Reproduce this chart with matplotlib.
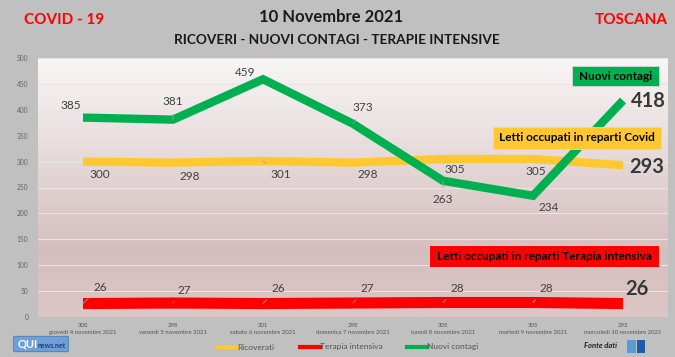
import matplotlib.pyplot as plt
import numpy as np
from matplotlib.patches import Rectangle, FancyBboxPatch
from matplotlib.colors import LinearSegmentedColormap
from matplotlib.lines import Line2D

plt.rcParams['font.family'] = ['Lato', 'DejaVu Sans']

# data
giorni = ["giovedì 4 novembre 2021", "venerdì 5 novembre 2021",
          "sabato 6 novembre 2021", "domenica 7 novembre 2021",
          "lunedì 8 novembre 2021", "martedì 9 novembre 2021",
          "mercoledì 10 novembre 2021"]
ricoverati = [300, 298, 301, 298, 305, 305, 293]
terapia = [26, 27, 26, 27, 28, 28, 26]
contagi = [385, 381, 459, 373, 263, 234, 418]

# label offsets in pixels (dx, dy, leader line); last one is the big label
off_contagi = [(-12, 12, 0), (0, 18, 1), (-18, 7, 0), (10, 16, 1), (0, -19, 1), (16, -12, 0), (25, -1, 0)]
off_ricov = [(17, -13, 0), (17, -14, 0), (18, -13, 1), (15, -12, 0), (12, -10, 0), (3, -12, 0), (24, -2, 0)]
off_terapia = [(17, 16, 1), (11, 13, 1), (15, 15, 1), (14, 15, 1), (14, 14, 1), (13, 14, 1), (14, 15, 0)]

GREEN = '#00b050'
YELLOW = '#ffc830'
RED = '#ff0000'
W, H = 675, 357

fig = plt.figure(figsize=(6.75, 3.57), dpi=100, facecolor='#c0c0c0')
ax = fig.add_axes([38 / W, 1 - 317 / H, 630 / W, 259 / H])
x = np.arange(len(giorni))

# gradient background of plot area
cmap = LinearSegmentedColormap.from_list('bg', [(0, '#dcc6c6'), (0.25, '#d5bebe'), (1, '#f8f6f6')])
grad = np.linspace(0, 1, 256).reshape(-1, 1)
ax.imshow(grad, extent=[0, 1, 0, 1], transform=ax.transAxes, origin='lower',
          aspect='auto', cmap=cmap, zorder=0)

ax.set_xlim(-0.5, len(giorni) - 0.5)
ax.set_ylim(0, 500)
ax.set_yticks(np.arange(0, 501, 50))
ax.grid(axis='y', color='#ebe3e3', lw=0.8, zorder=1)
ax.set_axisbelow(True)
for s in ax.spines.values():
    s.set_visible(False)
ax.tick_params(axis='y', length=0, labelsize=4.8, labelcolor='#666666', pad=7)
ax.set_xticks(x)
ax.set_xticklabels([f"{r}\n{g}" for r, g in zip(ricoverati, giorni)],
                   fontsize=4.3, color='#555555', linespacing=1.6)
ax.tick_params(axis='x', length=0, pad=4)

ax.plot(x, ricoverati, color=YELLOW, lw=6, solid_capstyle='butt', zorder=3)
ax.plot(x, terapia, color=RED, lw=8, solid_capstyle='butt', zorder=3)
ax.plot(x, contagi, color=GREEN, lw=6, solid_capstyle='butt', solid_joinstyle='miter', zorder=4)


def labels(vals, offs):
    last = len(vals) - 1
    for i, v in enumerate(vals):
        dx, dy, lead = offs[i]
        ap = dict(arrowstyle='-', color='#a0a0a0', lw=0.6, shrinkA=3, shrinkB=0) if lead else None
        big = i == last
        ax.annotate(str(v), (i, v), xytext=(dx, dy), textcoords='offset pixels',
                    ha='center', va='center', fontsize=14.5 if big else 8.5,
                    fontweight='bold' if big else 'normal',
                    color='#383838' if big else '#404040',
                    arrowprops=ap, zorder=6)


labels(contagi, off_contagi)
labels(ricoverati, off_ricov)
labels(terapia, off_terapia)


def callout(x0, y0, x1, y1, text, color):
    fig.patches.append(Rectangle((x0 / W, 1 - y1 / H), (x1 - x0) / W, (y1 - y0) / H,
                                 transform=fig.transFigure, facecolor=color,
                                 edgecolor='#d8d8d8', lw=0.6, zorder=5))
    fig.text((x0 + x1) / 2 / W, 1 - (y0 + y1) / 2 / H, text, ha='center', va='center',
             fontsize=8.5, fontweight='bold', color='black', zorder=6)


callout(572, 66, 659, 86, "Nuovi contagi", GREEN)
callout(493, 127, 661, 149, "Letti occupati in reparti Covid", YELLOW)
callout(429, 245, 659, 267, "Letti occupati in reparti Terapia intensiva", RED)

# titles
fig.text(331 / W, 1 - 17 / H, "10 Novembre 2021", ha='center', va='center',
         fontsize=12, fontweight='bold', color='#1a1a1a')
fig.text(337 / W, 1 - 40 / H, "RICOVERI - NUOVI CONTAGI - TERAPIE INTENSIVE", ha='center',
         va='center', fontsize=9.8, fontweight='bold', color='#1a1a1a')
fig.text(64 / W, 1 - 20 / H, "COVID - 19", ha='center', va='center', fontsize=11,
         fontweight='bold', color=RED)
fig.text(631 / W, 1 - 20 / H, "TOSCANA", ha='center', va='center', fontsize=11,
         fontweight='bold', color=RED)

# legend
handles = [Line2D([], [], color=YELLOW, lw=3), Line2D([], [], color=RED, lw=3),
           Line2D([], [], color=GREEN, lw=3)]
fig.legend(handles, ["Ricoverati", "Terapia intensiva", "Nuovi contagi"], loc='center',
           bbox_to_anchor=(348 / W, 1 - 347 / H), ncol=3, frameon=False, fontsize=6,
           handlelength=2.4, handletextpad=0, columnspacing=3, labelcolor='#555555')

fig.text(617 / W, 1 - 346 / H, "Fonte dati", ha='right', va='center', fontsize=5.5,
         style='italic', fontweight='bold', color='#222222')
fig.patches.append(Rectangle((627 / W, 1 - 353 / H), 9 / W, 13 / H, transform=fig.transFigure,
                             facecolor='#5b9bd5', edgecolor='none'))
fig.patches.append(Rectangle((637 / W, 1 - 353 / H), 8 / W, 13 / H, transform=fig.transFigure,
                             facecolor='#1f5ca8', edgecolor='none'))

# QUInews logo
fig.patches.append(FancyBboxPatch((15 / W, 1 - 351 / H), 52 / W, 14 / H,
                                  boxstyle='round,pad=0.002', transform=fig.transFigure,
                                  facecolor='#6f9fd8', edgecolor='#4a78b0', lw=0.6))
fig.text(18 / W, 1 - 344 / H, "QUI", ha='left', va='center', fontsize=8,
         fontweight='bold', color='white')
fig.text(38 / W, 1 - 345 / H, "news.net", ha='left', va='center', fontsize=5,
         fontweight='bold', color='#24406b')

fig.savefig('out.png', dpi=100, facecolor=fig.get_facecolor())
